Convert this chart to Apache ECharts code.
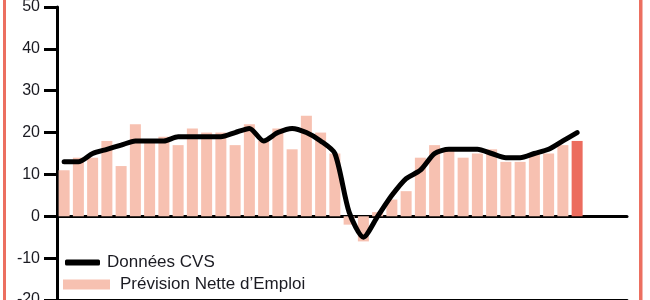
<!DOCTYPE html>
<html>
<head>
<meta charset="utf-8">
<script src="https://cdn.jsdelivr.net/npm/echarts@6/dist/echarts.min.js"></script>
<style>
html,body{margin:0;padding:0;background:#fff;}
#chart{width:650px;height:300px;}
</style>
</head>
<body>
<div id="chart"></div>
<script>
var categories = [
  'T2 2015','T3 2015','T4 2015',
  'T1 2016','T2 2016','T3 2016','T4 2016',
  'T1 2017','T2 2017','T3 2017','T4 2017',
  'T1 2018','T2 2018','T3 2018','T4 2018',
  'T1 2019','T2 2019','T3 2019','T4 2019',
  'T1 2020','T2 2020','T3 2020','T4 2020',
  'T1 2021','T2 2021','T3 2021','T4 2021',
  'T1 2022','T2 2022','T3 2022','T4 2022',
  'T1 2023','T2 2023','T3 2023','T4 2023',
  'T1 2024','T2 2024','T3 2024','T4 2024',
  'T1 2025'
];
var previsionNette = [11,14,14,18,12,22,18,19,17,21,20,20,17,22,18,21,16,24,20,15,-2,-6,1,4,6,14,17,16,14,15,16,13,13,15,15,17,18];
var donneesCVS = [13,13,15,16,17,18,18,18,19,19,19,19,20,21,18,20,21,20,18,15,1,-5,0,5,9,11,15,16,16,16,15,14,14,15,16,18,20];
var yTicks = [-20,-10,0,10,20,30,40,50];

var barColor = '#F7C1B1';
var lastBarColor = '#EC6C5E';
var borderColor = '#EC6F60';
var textColor = '#1b1b22';
var font = 'Liberation Sans';

var barData = previsionNette.map(function (v, i) {
  return i === previsionNette.length - 1 ? {value: v, itemStyle: {color: lastBarColor}} : v;
});

var chart = echarts.init(document.getElementById('chart'), null, {renderer: 'canvas'});
chart.setOption({
  animation: false,
  backgroundColor: '#ffffff',
  grid: {left: 57, right: 23, top: 7, bottom: 0, containLabel: false, outerBoundsMode: 'none'},
  xAxis: [{
    type: 'category',
    data: categories,
    axisLine: {onZero: true, lineStyle: {color: '#000', width: 3}},
    axisTick: {show: false},
    axisLabel: {show: false},
    splitLine: {show: false}
  }, {
    type: 'category',
    data: categories,
    position: 'bottom',
    axisLine: {onZero: false, lineStyle: {color: '#000', width: 3}},
    axisTick: {show: false},
    axisLabel: {show: false},
    splitLine: {show: false}
  }],
  yAxis: {
    type: 'value',
    min: yTicks[0],
    max: yTicks[yTicks.length - 1],
    interval: 10,
    axisLine: {show: true, lineStyle: {color: '#000', width: 3}},
    axisTick: {show: true, length: 13, lineStyle: {color: '#000', width: 3}},
    axisLabel: {margin: 17, color: textColor, fontFamily: font, fontSize: 16},
    splitLine: {show: false}
  },
  legend: [{
    data: [{name: 'Données CVS', icon: 'roundRect'}],
    left: 65, top: 254, padding: 0,
    itemWidth: 35, itemHeight: 6,
    textStyle: {color: textColor, fontFamily: font, fontSize: 17, lineHeight: 17, padding: [0, 0, 0, 2]},
    selectedMode: false
  }, {
    data: [{name: 'Prévision Nette d’Emploi', icon: 'rect'}],
    left: 63, top: 276, padding: 0,
    itemWidth: 47, itemHeight: 10,
    textStyle: {color: textColor, fontFamily: font, fontSize: 17, lineHeight: 17, padding: [0, 0, 0, 5]},
    selectedMode: false
  }],
  series: [{
    name: 'Prévision Nette d’Emploi',
    type: 'bar',
    data: barData,
    barWidth: 11,
    itemStyle: {color: barColor},
    z: 1
  }, {
    name: 'Données CVS',
    type: 'line',
    data: donneesCVS,
    smooth: 0.25,
    showSymbol: false,
    symbol: 'none',
    lineStyle: {color: '#000', width: 5, cap: 'round', join: 'round'},
    itemStyle: {color: '#000'},
    z: 3
  }],
  graphic: [
    {type: 'rect', left: 3, top: 0, shape: {width: 3, height: 300}, style: {fill: borderColor}, silent: true},
    {type: 'rect', left: 639, top: 0, shape: {width: 3.5, height: 300}, style: {fill: borderColor}, silent: true}
  ]
});
</script>
</body>
</html>
